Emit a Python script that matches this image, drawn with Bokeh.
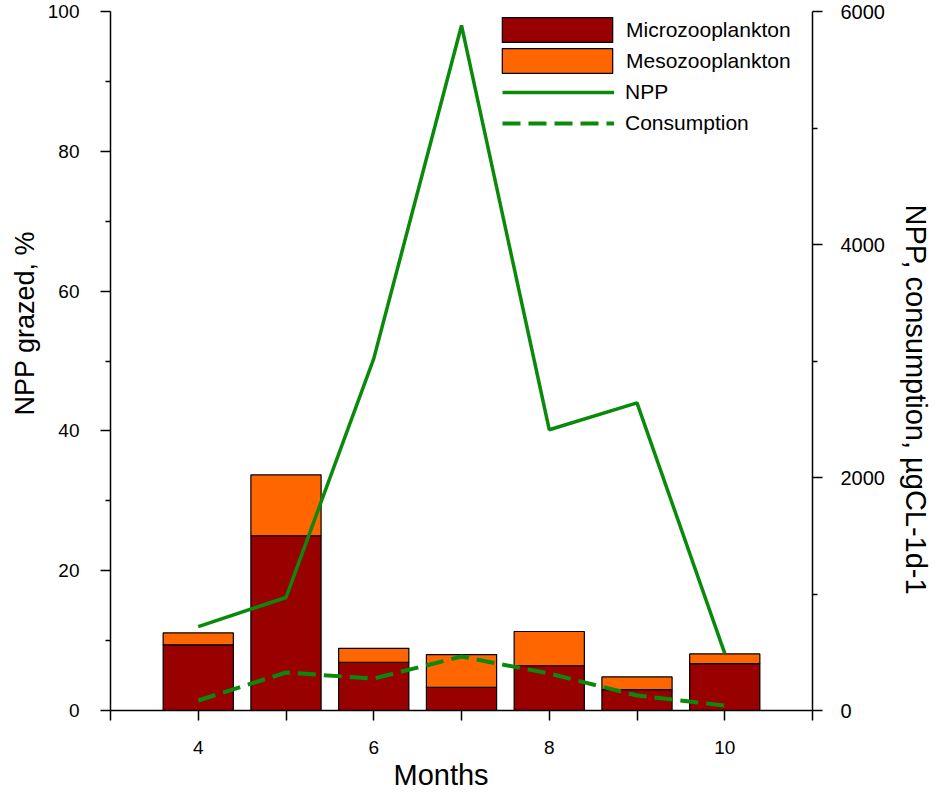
from bokeh.plotting import figure
from bokeh.models import (Range1d, LinearAxis, FixedTicker, Legend, LegendItem,
                          ColumnDataSource, Title)
from bokeh.embed import file_html
from bokeh.resources import INLINE

# ---- data ----
months = [4, 5, 6, 7, 8, 9, 10]
micro = [9.4, 25.0, 6.9, 3.3, 6.4, 3.0, 6.7]          # % NPP grazed
meso = [1.7, 8.7, 2.0, 4.7, 4.9, 1.8, 1.4]            # % NPP grazed
npp = [720, 970, 3020, 5880, 2410, 2640, 490]         # µgC L-1 d-1
consumption = [86, 326, 274, 463, 317, 129, 43]       # µgC L-1 d-1

x_ticks = [4, 6, 8, 10]
x_minor = [3, 5, 7, 9, 11]
y_ticks = [0, 20, 40, 60, 80, 100]
y_minor = [10, 30, 50, 70, 90]
y2_ticks = [0, 2000, 4000, 6000]
y2_minor = [1000, 3000, 5000]

x_title = "Months"
y_title = "NPP grazed, %"
y2_title = "NPP, consumption, µgCL-1d-1"

FONT = "Liberation Sans"
MICRO_C = "#990000"
MESO_C = "#FF6600"
GREEN = "#0A8A0A"

src = ColumnDataSource(dict(months=months, micro=micro, meso=meso,
                            npp=npp, consumption=consumption))

p = figure(width=948, height=790, output_backend="svg", toolbar_location=None,
           x_range=Range1d(3, 11), y_range=Range1d(0, 100),
           min_border_left=110, min_border_right=136,
           min_border_top=11, min_border_bottom=79)
p.extra_y_ranges = {"npp": Range1d(0, 6000)}
p.outline_line_color = None
p.xgrid.visible = False
p.ygrid.visible = False
p.background_fill_color = "white"
p.border_fill_color = "white"

bars = p.vbar_stack(["micro", "meso"], x="months", width=0.8, source=src,
                    color=[MICRO_C, MESO_C], line_color="black", line_width=1.2)

npp_r = p.line("months", "npp", source=src, y_range_name="npp",
               line_color=GREEN, line_width=3.5)
cons_r = p.line("months", "consumption", source=src, y_range_name="npp",
                line_color=GREEN, line_width=4, line_dash="18 8")

# right axis
ax2 = LinearAxis(y_range_name="npp")
p.add_layout(ax2, "right")

# axes styling
for ax in [p.xaxis[0], p.yaxis[0], ax2]:
    ax.axis_line_color = "black"
    ax.axis_line_width = 1.5
    ax.major_tick_line_color = "black"
    ax.minor_tick_line_color = "black"
    ax.major_tick_line_width = 1.5
    ax.minor_tick_line_width = 1.5
    ax.major_tick_in = 0
    ax.minor_tick_in = 0
    ax.major_tick_out = 10
    ax.minor_tick_out = 5
    ax.major_label_text_font = FONT
    ax.major_label_text_color = "black"
    ax.major_label_text_font_size = "19px"

xa = p.xaxis[0]
xa.ticker = FixedTicker(ticks=x_ticks, minor_ticks=x_minor)
xa.minor_tick_out = 10
xa.major_label_standoff = 20

ya = p.yaxis[0]
ya.ticker = FixedTicker(ticks=y_ticks, minor_ticks=y_minor)
ya.major_label_standoff = 21

ax2.ticker = FixedTicker(ticks=y2_ticks, minor_ticks=y2_minor)
ax2.major_label_text_font_size = "20px"
ax2.major_label_standoff = 18

# axis titles as side titles, shifted along the axis like the reference
def side_title(text, offset, standoff, size):
    return Title(text=text, align="left", offset=offset, standoff=standoff,
                 text_font=FONT, text_font_size=size,
                 text_font_style="normal", text_color="black")

p.add_layout(side_title(x_title, 283, 0, "29px"), "below")
p.add_layout(side_title(y_title, 295, 10, "27px"), "left")
p.add_layout(side_title(y2_title, 193, 25, "29px"), "right")

# legends: bar items and line items (so that swatches and lines align)
leg_bars = Legend(items=[
    LegendItem(label="Microzooplankton", renderers=[bars[0]]),
    LegendItem(label="Mesozooplankton", renderers=[bars[1]]),
], location=(378, 634))
leg_bars.glyph_width = 138
leg_bars.glyph_height = 31
leg_bars.spacing = 0
leg_bars.label_standoff = 0

leg_lines = Legend(items=[
    LegendItem(label="NPP", renderers=[npp_r]),
    LegendItem(label="Consumption", renderers=[cons_r]),
], location=(392, 574))
leg_lines.glyph_width = 112
leg_lines.glyph_height = 26
leg_lines.spacing = 5
leg_lines.label_standoff = 11

for lg in (leg_bars, leg_lines):
    lg.padding = 0
    lg.margin = 0
    lg.label_text_font = FONT
    lg.label_text_font_size = "21px"
    lg.label_text_color = "black"
    lg.label_height = 20
    lg.border_line_color = None
    lg.background_fill_alpha = 0
    p.add_layout(lg)

open("out.html", "w").write(file_html(p, INLINE))
